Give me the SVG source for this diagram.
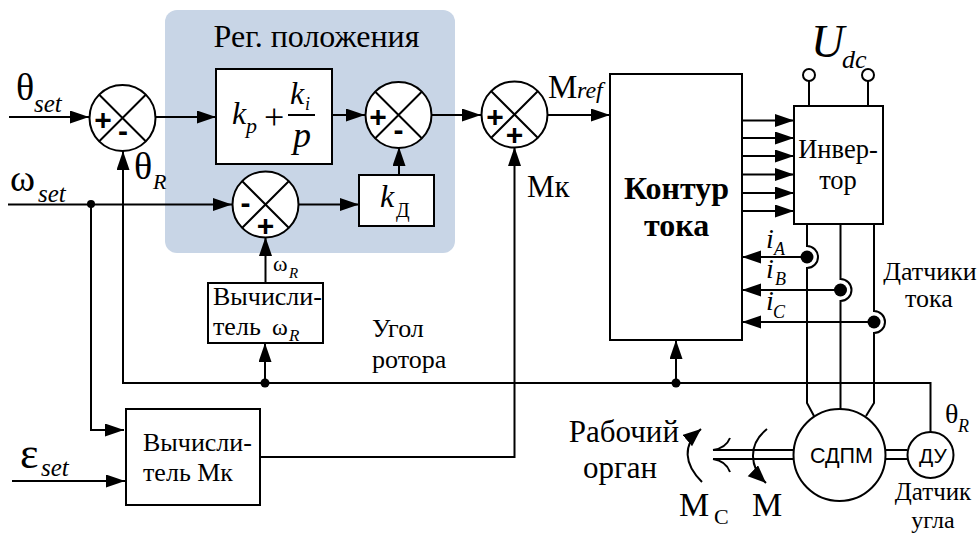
<svg xmlns="http://www.w3.org/2000/svg" width="978" height="534" viewBox="0 0 978 534">
<style>
text{font-family:"Liberation Serif","Times New Roman",serif;fill:#000}
.s{font-family:"Liberation Sans",Arial,sans-serif}
.i{font-style:italic}
.b{fill:#fff;stroke:#000;stroke-width:2}
.w{fill:none;stroke:#000;stroke-width:2}
.c{fill:#fff;stroke:#000;stroke-width:2}
.d{fill:#000;stroke:none}
.sg{font-family:"Liberation Sans",Arial,sans-serif;font-weight:bold;font-size:30px;text-anchor:middle}
.m{text-anchor:middle}
</style>
<defs>
<marker id="a" markerUnits="userSpaceOnUse" markerWidth="20" markerHeight="14" refX="19" refY="6.5" orient="auto"><path d="M0 0L19 6.5L0 13z" fill="#000"/></marker>
<marker id="t" markerUnits="userSpaceOnUse" markerWidth="20" markerHeight="16" refX="18" refY="7.5" orient="auto"><path d="M0 0L18 7.5L0 15z" fill="#000"/></marker>
<g id="x"><path d="M-23.5-23.5L23.5 23.5M23.5-23.5L-23.5 23.5" class="w"/></g>
</defs>
<rect id="regulator" x="165" y="10" width="290" height="243" rx="12" fill="#c8d5e6"/>
<text x="316.500" y="47" font-size="32" class="m">Рег. положения</text>

<g id="connectors" class="w">
<path marker-end="url(#a)" d="M9 117H89"/>
<path marker-end="url(#a)" d="M156 117H216"/>
<path marker-end="url(#a)" d="M332 115H365"/>
<path marker-end="url(#a)" d="M432 115H481"/>
<path marker-end="url(#a)" d="M548 115H610"/>
<path marker-end="url(#a)" d="M8 204.500H232"/>
<path marker-end="url(#a)" d="M299 204.500H359"/>
<path marker-end="url(#a)" d="M399 175V147"/>
<path marker-end="url(#a)" d="M265.500 283V237"/>
<path marker-end="url(#a)" d="M91 204V430H124"/>
<path marker-end="url(#a)" d="M12 481H125"/>
<path marker-end="url(#a)" d="M260 457H514.500V147"/>
<path marker-end="url(#a)" d="M930.500 432V383H123V151"/>
<path marker-end="url(#a)" d="M265 383V343"/>
<path marker-end="url(#a)" d="M676 383V340"/>
<path marker-end="url(#a)" d="M742 120.500H794"/>
<path marker-end="url(#a)" d="M742 138H794"/>
<path marker-end="url(#a)" d="M742 156H794"/>
<path marker-end="url(#a)" d="M742 174.500H794"/>
<path marker-end="url(#a)" d="M742 193H794"/>
<path marker-end="url(#a)" d="M742 211H794"/>
<path marker-end="url(#a)" d="M807 257H742"/>
<path marker-end="url(#a)" d="M840.500 290H742"/>
<path marker-end="url(#a)" d="M874 322H742"/>
<path d="M809 106V81M868 106V81"/>
<path d="M807 224V246A11 11 0 0 1 807 268V403L814 416"/>
<path d="M840.500 224V279A11 11 0 0 1 840.500 301V410"/>
<path d="M874 224V311A11 11 0 0 1 874 333V403L866 416"/>
<path d="M713 450H793M713 459H793M886 450H907M886 459H907"/>
<path d="M730 438Q726 448 713 450M730 472Q726 461 713 459"/>
<path marker-end="url(#t)" d="M767 429C747 445 750 468 766 483"/>
<path marker-end="url(#t)" d="M702 482C684 464 682 445 701 429"/>
<circle class="d" cx="91" cy="204" r="4"/>
<circle class="d" cx="265" cy="383" r="4.500"/>
<circle class="d" cx="676" cy="383" r="4.500"/>
<circle class="d" cx="807" cy="257" r="6.500"/>
<circle class="d" cx="840.500" cy="290" r="6.500"/>
<circle class="d" cx="874" cy="322" r="6.500"/>
</g>

<g id="sum1"><circle class="c" cx="122.500" cy="118" r="33"/><use href="#x" x="122.500" y="118"/><text class="sg" x="103" y="130">+</text><text class="sg" x="123" y="141">-</text></g>
<g id="sum2"><circle class="c" cx="265.500" cy="204.500" r="33"/><use href="#x" x="265.500" y="204.500"/><text class="sg" x="245.500" y="213">-</text><text class="sg" x="265.500" y="236">+</text></g>
<g id="sum3"><circle class="c" cx="398.500" cy="115" r="33"/><use href="#x" x="398.500" y="115"/><text class="sg" x="378" y="127">+</text><text class="sg" x="398.500" y="140">-</text></g>
<g id="sum4"><circle class="c" cx="514.500" cy="114.500" r="33"/><use href="#x" x="514.500" y="114.500"/><text class="sg" x="495" y="127">+</text><text class="sg" x="514.500" y="145">+</text></g>

<g id="pi"><rect class="b" x="216" y="69" width="116" height="95"/>
<text x="232" y="124" font-size="32" class="i">k</text><text x="246" y="133" font-size="22" class="i">p</text>
<text x="264" y="129" font-size="36">+</text>
<text x="290" y="104" font-size="32" class="i">k</text><text x="305" y="110" font-size="18" class="i">i</text>
<path d="M288 115H315" class="w" stroke-width="1.500"/>
<text x="293" y="147" font-size="36" class="i">p</text></g>
<g id="kd"><rect class="b" x="359" y="175" width="75" height="51"/>
<text x="380" y="207" font-size="32" class="i">k</text><text x="396" y="217" font-size="20">Д</text></g>
<g id="calc-w"><rect class="b" x="208" y="283" width="115" height="60"/>
<text x="213" y="305" font-size="26">Вычисли-</text>
<text x="213" y="335" font-size="26">тель</text><text x="272" y="335" font-size="24">ω</text><text x="289" y="341" font-size="17" class="i">R</text></g>
<g id="calc-m"><rect class="b" x="126" y="409" width="134" height="96"/>
<text x="143" y="451" font-size="26">Вычисли-</text><text x="143" y="481" font-size="26">тель Мк</text></g>
<g id="current"><rect class="b" x="610" y="74" width="132" height="266"/>
<text x="676.500" y="199" font-size="32" font-weight="bold" class="m">Контур</text>
<text x="676.500" y="236" font-size="32" font-weight="bold" class="m">тока</text></g>
<g id="inverter"><rect class="b" x="794" y="106" width="89" height="118"/>
<text x="838" y="158" font-size="26.500" class="m">Инвер-</text><text x="838" y="189" font-size="26.500" class="m">тор</text></g>
<g id="term1"><circle class="c" cx="809" cy="75" r="6"/></g>
<g id="term2"><circle class="c" cx="868" cy="75" r="6"/></g>
<g id="motor"><circle class="c" cx="839.500" cy="455" r="46"/><text class="s m" x="841.500" y="463" font-size="21.500">СДПМ</text></g>
<g id="sensor"><circle class="c" cx="930.500" cy="455" r="23"/><text class="s m" x="933" y="463" font-size="21">ДУ</text></g>

<g id="labels">
<text x="16" y="100" font-size="38">θ</text><text x="34" y="112" font-size="25" class="i">set</text>
<text x="10" y="191" font-size="38">ω</text><text x="38" y="202" font-size="25" class="i">set</text>
<text x="20" y="468" font-size="44">ε</text><text x="41" y="476" font-size="25" class="i">set</text>
<text x="134" y="179" font-size="38">θ</text><text x="153" y="189" font-size="22" class="i">R</text>
<text x="273" y="271" font-size="22">ω</text><text x="289" y="278" font-size="15" class="i">R</text>
<text x="548" y="98" font-size="33">M</text><text x="577" y="98" font-size="24" class="i">ref</text>
<text x="527" y="197" font-size="31">Мк</text>
<text x="811" y="57" font-size="46" class="i">U</text><text x="842" y="68" font-size="26" class="i">dc</text>
<text x="766" y="248" font-size="28" class="i">i</text><text x="774" y="255" font-size="18" class="i">A</text>
<text x="766" y="278" font-size="28" class="i">i</text><text x="775" y="285" font-size="18" class="i">B</text>
<text x="766" y="310" font-size="28" class="i">i</text><text x="773" y="318" font-size="18" class="i">C</text>
<text x="930" y="280" font-size="26" class="m">Датчики</text><text x="929" y="307" font-size="26" class="m">тока</text>
<text x="372" y="337" font-size="26">Угол</text><text x="372" y="368" font-size="26">ротора</text>
<text x="679" y="442" font-size="31" text-anchor="end">Рабочий</text><text x="657" y="478" font-size="31" text-anchor="end">орган</text>
<text x="679" y="516" font-size="34">M</text><text x="714" y="524" font-size="22">C</text>
<text x="752" y="516" font-size="34">M</text>
<text x="945" y="423" font-size="28">θ</text><text x="958" y="432" font-size="18" class="i">R</text>
<text x="933" y="500" font-size="25" class="m">Датчик</text><text x="933" y="528" font-size="24" class="m">угла</text>
</g>
</svg>
